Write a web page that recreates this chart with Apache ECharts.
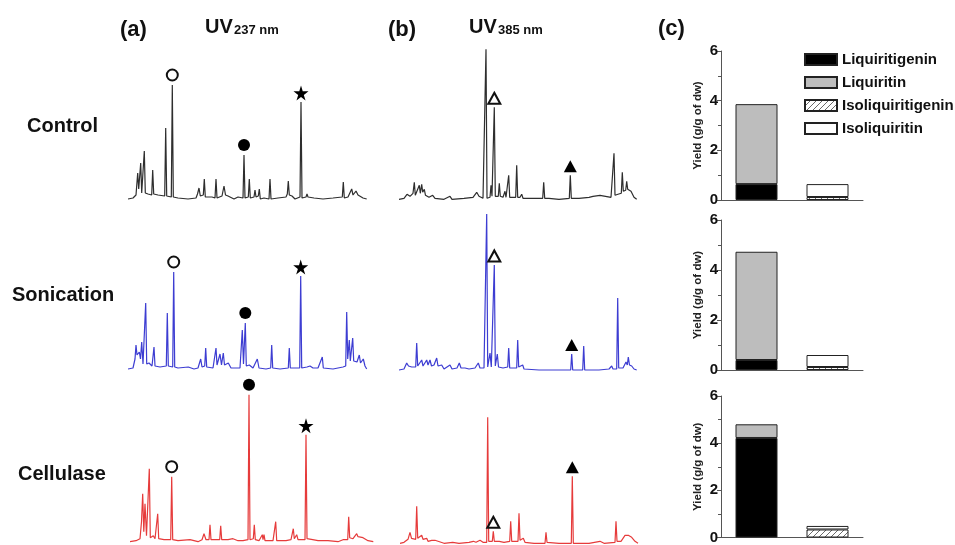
<!DOCTYPE html>
<html>
<head>
<meta charset="utf-8">
<script src="https://cdn.jsdelivr.net/npm/echarts@6/dist/echarts.min.js"></script>
<style>
  html, body { margin: 0; padding: 0; background: #fff; }
  #chart { width: 955px; height: 545px; }
</style>
</head>
<body>
<div id="chart"></div>
<script>
// --- chromatogram traces: [retention (a.u.), absorbance (a.u.)] ---
const ctrl237 = [[0,0],[5,1],[8,4],[9.7,26],[10.7,10],[12.7,36],[13.7,6],[16.3,48],[17.3,6],[20,5],[23.7,4],[24.7,29],[25.7,5],[30,4],[36.7,3],[37.7,71],[38.7,3],[43.3,2],[44.3,114],[45.3,2],[50,1],[60,0],[68,1],[69.5,5],[71,11],[72.3,3],[75.3,4],[76.3,20],[77.3,2],[84,2],[85,0],[87,1],[88,20],[89,1],[94,3],[96,13],[97.5,4],[100,3],[106,0],[110,2],[115,1],[116,44],[117,1],[120.3,2],[121.3,20],[122.3,1],[126,2],[127,9],[128,2],[130.3,3],[131.3,10],[132.3,0],[136,1],[141,0],[142,20],[143,0],[150,1],[158,2],[159.3,5],[160.3,18],[161.3,4],[164,3],[167,0],[172,2],[173,97],[174,1],[178,2],[179,5],[180,2],[186,1],[195,0],[205,1],[214.3,2],[215.3,17],[216.3,1],[220,2],[223.7,10],[225,4],[228,8],[230,4],[235,1],[238.7,0]];
const ctrl385 = [[0,0],[5,1],[8,5],[9,7],[11,3],[14,6],[15.3,17],[16.3,4],[18,5],[20.3,14],[21.3,6],[22.7,15],[23.7,7],[25.3,10],[26.5,4],[30,2],[33.7,4],[36,1],[45,0],[51,3],[53,0],[65,1],[74,2],[77.7,7],[80,3],[84,1],[86,1],[87,150],[88,1],[91,2],[92,14],[93,3],[94.3,2],[95.3,92],[96.3,3],[99.3,3],[100.3,16],[101.3,3],[104,2],[106,8],[107,2],[108.7,3],[109.7,24],[110.7,2],[116.7,2],[117.7,34],[118.7,2],[121,2],[122.7,5],[124,1],[135,1],[143.7,1],[144.7,17],[145.7,1],[150,1],[160,0],[170.3,1],[171.3,24],[172.3,1],[180,1],[190,2],[194,3],[196,1],[201,4],[203,2],[212,2],[214,3],[215,46],[216,4],[219,5],[222.3,6],[223.3,27],[224.3,8],[226.7,9],[227.7,18],[228.7,10],[230,11],[232,8],[235,2],[237.7,0]];
const soni237 = [[0,0],[5,1],[7,10],[8,24],[9,14],[10,12],[11.3,17],[12.5,10],[13.7,27],[15,5],[16.7,4],[17.7,66],[18.7,5],[21,6],[24,3],[25,4],[26,22],[27,3],[32,2],[38.3,3],[39.3,56],[40.3,3],[44.7,2],[45.7,97],[46.7,2],[50,1],[60.3,2],[66,0],[70,1],[72.7,10],[74,2],[76.7,3],[77.7,21],[78.7,2],[85,1],[87,2],[88,21],[89,4],[92,15],[93.5,4],[95.3,16],[96.5,4],[100.3,6],[103,1],[112,1],[114.3,39],[115.5,5],[117.3,46],[118.3,3],[121.3,4],[125,1],[129.3,10],[131,1],[138,0],[142.7,1],[143.7,24],[144.7,1],[152,0],[160.3,1],[161.3,21],[162.3,1],[168,1],[171.7,1],[172.7,93],[173.7,1],[179,2],[182,3],[185,1],[190,1],[194.3,12],[195.3,1],[205,0],[215,2],[217.7,3],[218.7,57],[219.7,10],[221.3,29],[222.3,8],[224.7,31],[225.7,8],[227,9],[229,7],[231.3,14],[232.5,6],[235.3,10],[237,3],[238.7,0]];
const soni385 = [[0,0],[5,1],[7.7,7],[9.5,4],[12.7,3],[14,2],[16.7,3],[17.7,27],[18.7,4],[20.5,5],[22.7,10],[24,4],[26,5],[27.7,10],[29,5],[31,10],[32.5,4],[35,5],[37.7,12],[39,4],[42.7,5],[45,1],[51,5],[53,1],[58,2],[60.3,7],[62,2],[66,2],[70,1],[76,2],[79.3,7],[81,2],[85,2],[86.7,2],[87.7,156],[88.7,3],[91,17],[92.3,3],[94.3,3],[95.3,105],[96.3,4],[98.3,16],[99.5,3],[104,2],[108.7,3],[109.7,22],[110.7,2],[117.7,2],[118.7,30],[119.7,3],[123.7,5],[125,1],[140,0],[160,0],[171.7,0],[172.7,16],[173.7,0],[183.7,0],[184.7,24],[185.7,0],[200,0],[210,1],[212.7,4],[214,1],[217.7,1],[218.7,72],[219.7,2],[224,2],[227,8],[228.3,5],[229.3,13],[230.5,5],[232.7,4],[235,1],[237.7,0]];
const cell237 = [[2,0],[8,1],[12,3],[13.5,20],[14.7,48],[15.8,10],[17,38],[18.5,6],[20.3,5],[21.3,73],[22.3,4],[25.3,6],[27,3],[28.7,3],[29.7,28],[30.7,3],[36,2],[42.7,2],[43.7,65],[44.7,2],[50,1],[62,2],[70,0],[74,2],[76,8],[78,2],[81,2],[82,17],[83,2],[88,2],[91.7,2],[92.7,16],[93.7,2],[100,2],[105,3],[110,1],[115,1],[120,2],[121,147],[122,2],[125.3,3],[126.3,17],[127.3,2],[131,1],[134.3,7],[135,2],[136,7],[137,1],[145,1],[146.7,1],[147.7,20],[148.7,1],[158,1],[163,2],[165.3,13],[166.3,3],[168.7,7],[170,2],[177,2],[178,107],[179,3],[184.7,2],[190,1],[200,1],[210,0],[215,2],[219.7,2],[220.7,25],[221.7,4],[225,3],[228.7,8],[230,5],[232,6],[235,4],[240,1],[245.3,0]];
const cell385 = [[1,0],[5,1],[9,4],[11,11],[12.5,5],[14.3,6],[16.7,4],[17.7,37],[18.7,5],[20.5,5],[22.7,8],[24,4],[27.7,5],[29,2],[32.7,3],[34,1],[36,3],[38,1],[45,0],[53.7,1],[60,0],[70,1],[74.3,2],[77,1],[81,3],[84,1],[87.7,1],[88.7,126],[89.7,2],[93.3,2],[94.3,12],[95.3,2],[100.3,2],[105,1],[110.7,2],[111.7,22],[112.7,2],[119,2],[120,30],[121,3],[124.3,5],[126,1],[135,0],[146,0],[147,11],[148,1],[160,0],[172.3,0],[173.3,67],[174.3,0],[190,0],[201,2],[205,0],[216,1],[217,22],[218,2],[222,2],[226,8],[228,6],[229.3,8],[231,6],[232.7,6],[236,2],[239,0]];

// --- peak marks: [retention, peak height, kind] ---
const ctrl237Marks = [[44.3, 114, 'openCircle'], [116, 44, 'dot'], [173, 97, 'star']];
const ctrl385Marks = [[95.3, 92, 'openTri'], [171.3, 24, 'tri']];
const soni237Marks = [[45.7, 97, 'openCircle'], [117.3, 46, 'dot'], [172.7, 93, 'star']];
const soni385Marks = [[95.3, 105, 'openTri'], [172.7, 16, 'tri']];
const cell237Marks = [[43.7, 65, 'openCircle'], [121, 147, 'dot'], [178, 107, 'star']];
const cell385Marks = [[94.3, 12, 'openTri'], [173.3, 67, 'tri']];

// --- panel (c) yields (g/g of dw) ---
const compounds = ['Liquiritigenin', 'Liquiritin', 'Isoliquiritigenin', 'Isoliquiritin'];
const groups = ['Flavanones', 'Chalcones'];
const yieldControl = [0.64, 3.22, 0.12, 0.52];
const yieldSonication = [0.40, 4.33, 0.12, 0.48];
const yieldCellulase = [4.22, 0.58, 0.34, 0.15];
const yieldTicks = [0, 6, 2];

const FONT = '"Liberation Sans", Arial, sans-serif';

// hatched fill for isoliquiritigenin
function hatch() {
    const c = document.createElement('canvas');
    c.width = 6; c.height = 6;
    const g = c.getContext('2d');
    g.fillStyle = '#fff';
    g.fillRect(0, 0, 6, 6);
    g.strokeStyle = '#6a6a6a';
    g.lineWidth = 1;
    g.beginPath();
    g.moveTo(0, 6); g.lineTo(6, 0);
    g.moveTo(-1, 1); g.lineTo(1, -1);
    g.moveTo(5, 7); g.lineTo(7, 5);
    g.stroke();
    return c;
}

const starPath = 'path://M50,0 L61,35 L98,35 L68,57 L79,91 L50,70 L21,91 L32,57 L2,35 L39,35 Z';
const markStyles = {
    openCircle: { symbol: 'circle', symbolSize: 11, symbolOffset: [0, -10], itemStyle: { color: '#fff', borderColor: '#111', borderWidth: 2 } },
    dot: { symbol: 'circle', symbolSize: 12, symbolOffset: [0, -10], itemStyle: { color: '#000' } },
    star: { symbol: starPath, symbolSize: 15, symbolOffset: [0, -9], itemStyle: { color: '#000' } },
    openTri: { symbol: 'triangle', symbolSize: [12, 11], symbolOffset: [0, -9], itemStyle: { color: '#fff', borderColor: '#111', borderWidth: 2 } },
    tri: { symbol: 'triangle', symbolSize: [13, 12], symbolOffset: [0, -9], itemStyle: { color: '#000' } }
};

const traces = [
    { data: ctrl237, marks: ctrl237Marks, color: '#2e2e2e', left: 128, width: 246, base: 199 },
    { data: ctrl385, marks: ctrl385Marks, color: '#2e2e2e', left: 399, width: 240, base: 199.3 },
    { data: soni237, marks: soni237Marks, color: '#3d3dd2', left: 128, width: 246, base: 369 },
    { data: soni385, marks: soni385Marks, color: '#3d3dd2', left: 399, width: 240, base: 370 },
    { data: cell237, marks: cell237Marks, color: '#e63b3b', left: 128, width: 246, base: 541.7 },
    { data: cell385, marks: cell385Marks, color: '#e63b3b', left: 399, width: 240, base: 543.3 }
];
const YMAX = 159;

const grid = [], xAxis = [], yAxis = [], series = [];

traces.forEach((tr, i) => {
    grid.push({ left: tr.left, top: tr.base - YMAX, width: tr.width, height: YMAX });
    xAxis.push({ gridIndex: i, type: 'value', min: 0, max: tr.width, show: false });
    yAxis.push({ gridIndex: i, type: 'value', min: 0, max: YMAX, show: false });
    series.push({
        type: 'line',
        xAxisIndex: i, yAxisIndex: i,
        data: tr.data,
        showSymbol: false,
        clip: false,
        silent: true,
        lineStyle: { color: tr.color, width: 1.2 },
        markPoint: {
            silent: true,
            label: { show: false },
            data: tr.marks.map(m => Object.assign({ coord: [m[0], m[1]] }, markStyles[m[2]]))
        }
    });
});

// panel (c) bar grids
const barBoxes = [
    { top: 51, height: 149, values: yieldControl },
    { top: 220, height: 150, values: yieldSonication },
    { top: 396, height: 148, values: yieldCellulase }
];
const compoundColors = ['#000', '#bdbdbd', { image: hatch(), repeat: 'repeat' }, '#fff'];

barBoxes.forEach((b, j) => {
    const gi = 6 + j;
    grid.push({ left: 721, top: b.top, width: 142, height: b.height });
    xAxis.push({
        gridIndex: gi, type: 'category', data: groups,
        axisLine: { show: true, lineStyle: { color: '#555', width: 1 } },
        axisTick: { show: false }, axisLabel: { show: false }
    });
    yAxis.push({
        gridIndex: gi, type: 'value',
        min: yieldTicks[0], max: yieldTicks[1], interval: yieldTicks[2],
        name: 'Yield (g/g of dw)', nameLocation: 'middle', nameGap: 17, nameRotate: 90,
        nameTextStyle: { fontFamily: FONT, fontWeight: 'bold', fontSize: 11.5, color: '#222' },
        axisLine: { show: true, lineStyle: { color: '#555', width: 1 } },
        axisTick: { show: true, length: 4, lineStyle: { color: '#555' } },
        minorTick: { show: true, splitNumber: 2, length: 3, lineStyle: { color: '#555' } },
        splitLine: { show: false },
        axisLabel: { fontFamily: FONT, fontWeight: 'bold', fontSize: 15, color: '#111', margin: 3 }
    });
    compounds.forEach((name, k) => {
        series.push({
            type: 'bar', name: name,
            xAxisIndex: gi, yAxisIndex: gi,
            stack: 'yield' + j,
            barWidth: 42,
            data: k < 2 ? [b.values[k], '-'] : ['-', b.values[k]],
            itemStyle: { color: compoundColors[k], borderColor: '#222', borderWidth: 1 },
            silent: true
        });
    });
});

function label(text, x, y, size, align) {
    return {
        type: 'text', x: x, y: y, silent: true,
        style: {
            text: text, fill: '#111',
            font: 'bold ' + size + 'px ' + FONT,
            align: align || 'left', verticalAlign: 'middle'
        }
    };
}
function bottomLabel(text, x, y, size) {
    return {
        type: 'text', x: x, y: y, silent: true,
        style: { text: text, fill: '#111', font: 'bold ' + size + 'px ' + FONT, align: 'left', verticalAlign: 'bottom' }
    };
}

const chart = echarts.init(document.getElementById('chart'));
chart.setOption({
    animation: false,
    backgroundColor: '#fff',
    grid: grid,
    xAxis: xAxis,
    yAxis: yAxis,
    legend: {
        data: compounds,
        orient: 'vertical',
        left: 804, top: 52,
        itemWidth: 32, itemHeight: 11, itemGap: 8,
        padding: 0,
        icon: 'rect',
        selectedMode: false,
        textStyle: { fontFamily: FONT, fontWeight: 'bold', fontSize: 15, color: '#111' }
    },
    graphic: [
        label('(a)', 120, 30, 22),
        label('(b)', 388, 30, 22),
        label('(c)', 658, 29, 22),
        bottomLabel('UV', 205, 37, 20),
        bottomLabel('237 nm', 234, 37, 13),
        bottomLabel('UV', 469, 37, 20),
        bottomLabel('385 nm', 498, 37, 13),
        label('Control', 27, 126, 20),
        label('Sonication', 12, 295, 20),
        label('Cellulase', 18, 474, 20)
    ],
    series: series
});
</script>
</body>
</html>
